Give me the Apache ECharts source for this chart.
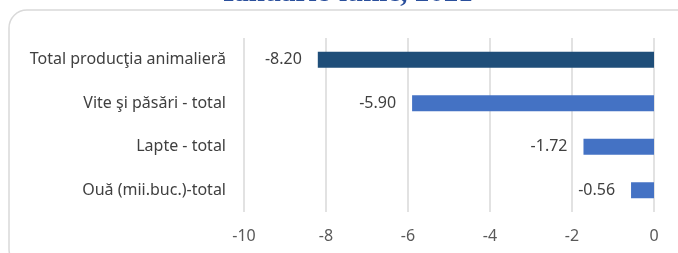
<!DOCTYPE html>
<html>
<head>
<meta charset="utf-8">
<script src="https://cdn.jsdelivr.net/npm/echarts@6/dist/echarts.min.js"></script>
<style>
  html, body { margin: 0; padding: 0; background: #fff; }
  #chart { width: 678px; height: 253px; }
</style>
</head>
<body>
<div id="chart"></div>
<script>
// categorii si valori (%)
const categories = ['Total producţia animalieră', 'Vite şi păsări - total', 'Lapte - total', 'Ouă (mii.buc.)-total'];
const values = [-8.20, -5.90, -1.72, -0.56];
const barColors = ['#1f4e79', '#4472c4', '#4472c4', '#4472c4'];
const tickMin = -10, tickMax = 0, tickStep = 2;

const myChart = echarts.init(document.getElementById('chart'));

const option = {
    animation: false,
    graphic: [
        {
            type: 'rect',
            shape: { x: 9, y: 10, width: 690, height: 257, r: 18 },
            style: { fill: 'none', stroke: '#d9d9d9', lineWidth: 1.5 }
        },
        {
            type: 'text',
            left: 223,
            top: -21,
            style: {
                text: 'Ianuarie-iunie, 2021',
                font: 'bold 29px "Liberation Serif"',
                fill: '#2a4f9c'
            }
        }
    ],
    grid: { left: 244, right: 24, top: 38, bottom: 41 },
    xAxis: {
        type: 'value',
        min: tickMin,
        max: tickMax,
        interval: tickStep,
        axisLine: { show: false },
        axisTick: { show: false },
        splitLine: { lineStyle: { color: '#d9d9d9', width: 1.5 } },
        axisLabel: { color: '#595959', fontSize: 16, fontFamily: 'Noto Sans', margin: 16 }
    },
    yAxis: {
        type: 'category',
        data: categories,
        inverse: true,
        axisLine: { show: false },
        axisTick: { show: false },
        axisLabel: { color: '#404040', fontSize: 16, fontFamily: 'Noto Sans', margin: 18 }
    },
    series: [
        {
            type: 'bar',
            barWidth: 16,
            data: values.map((v, i) => ({ value: v, itemStyle: { color: barColors[i] } })),
            label: {
                show: true,
                position: 'left',
                distance: 16,
                color: '#404040',
                fontSize: 16,
                fontFamily: 'Noto Sans',
                formatter: p => p.value.toFixed(2)
            }
        }
    ]
};

myChart.setOption(option);
</script>
</body>
</html>
